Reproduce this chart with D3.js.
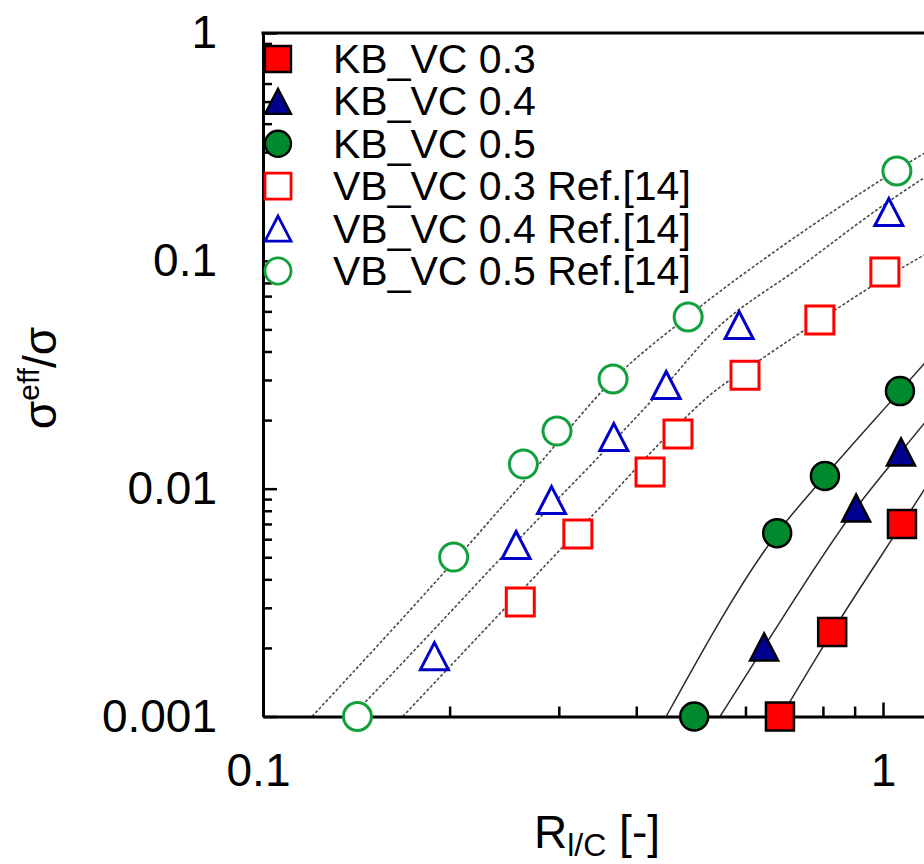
<!DOCTYPE html>
<html>
<head>
<meta charset="utf-8">
<script src="https://cdn.jsdelivr.net/npm/d3@7"></script>
<style>
  body { margin: 0; background: #fff; }
  text { font-family: "Liberation Sans", Arial, sans-serif; }
</style>
</head>
<body>
<div id="chart-area"></div>
<script>
const kb03X = [0.682, 0.828, 1.073];
const kb03Y = [0.001, 0.00235, 0.0070];
const kb04X = [0.643, 0.905, 1.069];
const kb04Y = [0.00202, 0.00822, 0.0145];
const kb05X = [0.496, 0.675, 0.806, 1.065];
const kb05Y = [0.001, 0.00638, 0.01136, 0.0268];

const vb03X = [0.260, 0.322, 0.421, 0.467, 0.599, 0.791, 1.007];
const vb03Y = [0.00318, 0.00632, 0.01183, 0.01738, 0.0315, 0.0550, 0.0893];
const vb04X = [0.189, 0.256, 0.292, 0.368, 0.447, 0.586, 1.022];
const vb04Y = [0.00184, 0.00566, 0.00891, 0.01684, 0.0285, 0.0523, 0.1637];
const vb05X = [0.142, 0.203, 0.263, 0.298, 0.367, 0.485, 1.053];
const vb05Y = [0.001, 0.00501, 0.01282, 0.0179, 0.0303, 0.0567, 0.248];

// fitted curves
const fitKb03X = [0.685, 0.828, 1.073, 1.331];
const fitKb03Y = [0.001, 0.00235, 0.0070, 0.0172];
const fitKb04X = [0.546, 0.643, 0.905, 1.069, 1.331];
const fitKb04Y = [0.001, 0.00202, 0.00822, 0.0145, 0.0300];
const fitKb05X = [0.447, 0.675, 0.806, 1.065, 1.331];
const fitKb05Y = [0.001, 0.00638, 0.01136, 0.0268, 0.0533];

const fitVb03X = [0.168, 0.260, 0.350, 0.453, 0.526, 0.633, 0.791, 1.007, 1.331];
const fitVb03Y = [0.001, 0.00352, 0.0083, 0.01754, 0.02576, 0.03668, 0.0550, 0.0840, 0.1298];
const fitVb04X = [0.139, 0.189, 0.256, 0.350, 0.448, 0.526, 0.735, 1.015, 1.331];
const fitVb04Y = [0.001, 0.00242, 0.00583, 0.01404, 0.02878, 0.04724, 0.0939, 0.1800, 0.2914];
const fitVb05X = [0.120, 0.213, 0.280, 0.368, 0.485, 0.650, 0.831, 1.053, 1.331];
const fitVb05Y = [0.001, 0.00554, 0.0130, 0.0303, 0.0572, 0.1040, 0.1650, 0.2504, 0.3675];

const xMajor = [0.1, 1];
const xMinor = [0.2, 0.3, 0.4, 0.5, 0.6, 0.7, 0.8, 0.9, 2, 3];
const yMajor = [0.001, 0.01, 0.1, 1];
const yMinor = [0.002, 0.003, 0.004, 0.005, 0.006, 0.007, 0.008, 0.009,
                0.02, 0.03, 0.04, 0.05, 0.06, 0.07, 0.08, 0.09,
                0.2, 0.3, 0.4, 0.5, 0.6, 0.7, 0.8, 0.9];

const legendLabels = ["KB_VC 0.3", "KB_VC 0.4", "KB_VC 0.5",
                      "VB_VC 0.3 Ref.[14]", "VB_VC 0.4 Ref.[14]", "VB_VC 0.5 Ref.[14]"];

const config = {
    width: 924,
    height: 864,
    left: 263,
    top: 33,
    bottom: 716.5,
    decadeX: 620
};

const RED = "#ff0000", NAVY = "#000090", BLUE = "#0000c8", DKGREEN = "#008a2e", GREEN = "#12a03c";

const series = [
    { xs: kb03X, ys: kb03Y, shape: "square", fill: RED, stroke: "#000", sw: 2.5 },
    { xs: kb04X, ys: kb04Y, shape: "triangle", fill: NAVY, stroke: "#000", sw: 2.5 },
    { xs: kb05X, ys: kb05Y, shape: "circle", fill: DKGREEN, stroke: "#000", sw: 2.5 },
    { xs: vb03X, ys: vb03Y, shape: "square", fill: "#fff", stroke: RED, sw: 3 },
    { xs: vb04X, ys: vb04Y, shape: "triangle", fill: "#fff", stroke: BLUE, sw: 3 },
    { xs: vb05X, ys: vb05Y, shape: "circle", fill: "#fff", stroke: GREEN, sw: 3 }
];

const fits = [
    { xs: fitKb03X, ys: fitKb03Y, dash: null },
    { xs: fitKb04X, ys: fitKb04Y, dash: null },
    { xs: fitKb05X, ys: fitKb05Y, dash: null },
    { xs: fitVb03X, ys: fitVb03Y, dash: "3,2" },
    { xs: fitVb04X, ys: fitVb04Y, dash: "3,2" },
    { xs: fitVb05X, ys: fitVb05Y, dash: "3,2" }
];

const svg = d3.select("#chart-area").append("svg")
    .attr("width", config.width)
    .attr("height", config.height)
    .style("background", "#fff");

const x = d3.scaleLog().domain([0.1, 10]).range([config.left, config.left + 2 * config.decadeX]);
const y = d3.scaleLog().domain([0.001, 1]).range([config.bottom, config.top]);

svg.append("clipPath").attr("id", "plot-clip")
    .append("rect")
    .attr("x", config.left).attr("y", config.top)
    .attr("width", 2000).attr("height", config.bottom - config.top);

// fit lines
const line = d3.line()
    .x(d => x(d[0]))
    .y(d => y(d[1]))
    .curve(d3.curveMonotoneX);

svg.append("g").attr("clip-path", "url(#plot-clip)")
    .selectAll("path")
    .data(fits)
    .join("path")
    .attr("d", f => line(f.xs.map((v, i) => [v, f.ys[i]])))
    .attr("fill", "none")
    .attr("stroke", f => f.dash ? "#4a4a4a" : "#2a2a2a")
    .attr("stroke-width", f => f.dash ? 1.6 : 1.5)
    .attr("stroke-dasharray", f => f.dash);

// axes (ticks point inward)
function styleAxis(g) {
    g.select(".domain").attr("stroke", "#000").attr("stroke-width", 3);
    g.selectAll(".tick line").attr("stroke", "#000").attr("stroke-width", 2.5);
    g.selectAll("text").attr("fill", "#000").attr("font-size", "46px")
        .attr("font-family", "'Liberation Sans', Arial, sans-serif");
}

const xAxisGroup = svg.append("g")
    .attr("transform", `translate(0, ${config.bottom})`)
    .call(d3.axisBottom(x).tickValues(xMajor).tickFormat(d3.format("~g"))
        .tickSizeInner(-14).tickSizeOuter(0).tickPadding(37))
    .call(styleAxis);
xAxisGroup.selectAll(".tick text").attr("dx", d => d < 1 ? -5 : 0);
svg.append("g")
    .attr("transform", `translate(0, ${config.bottom})`)
    .call(d3.axisBottom(x).tickValues(xMinor).tickFormat("")
        .tickSizeInner(-10).tickSizeOuter(0))
    .call(styleAxis)
    .select(".domain").remove();

const yAxisGroup = svg.append("g")
    .attr("transform", `translate(${config.left}, 0)`)
    .call(d3.axisLeft(y).tickValues(yMajor).tickFormat(d3.format("~g"))
        .tickSizeInner(-14).tickSizeOuter(0).tickPadding(46))
    .call(styleAxis);
svg.append("g")
    .attr("transform", `translate(${config.left}, 0)`)
    .call(d3.axisLeft(y).tickValues(yMinor).tickFormat("")
        .tickSizeInner(-9).tickSizeOuter(0))
    .call(styleAxis)
    .select(".domain").remove();

// top frame line
svg.append("line")
    .attr("x1", config.left - 1.5).attr("x2", config.width)
    .attr("y1", config.top).attr("y2", config.top)
    .attr("stroke", "#000").attr("stroke-width", 3);

// marker shapes, centred on their bounding box
function shapePath(shape) {
    if (shape === "square") return "M-14,-14H14V14H-14Z";
    if (shape === "triangle") return "M0,-13.5L14,13.5H-14Z";
    return "M14,0A14,14 0 1,1 -14,0A14,14 0 1,1 14,0Z";
}

series.forEach(s => {
    svg.append("g")
        .selectAll("path")
        .data(s.xs.map((v, i) => [v, s.ys[i]]))
        .join("path")
        .attr("transform", d => `translate(${x(d[0])}, ${y(d[1])})`)
        .attr("d", shapePath(s.shape))
        .attr("fill", s.fill)
        .attr("stroke", s.stroke)
        .attr("stroke-width", s.sw)
        .attr("stroke-linejoin", "miter");
});

// legend
const legend = svg.append("g").attr("transform", "translate(278, 59)");
const rows = legend.selectAll("g")
    .data(series)
    .join("g")
    .attr("transform", (d, i) => `translate(0, ${i * 42.4})`);
rows.append("path")
    .attr("d", d => shapePath(d.shape))
    .attr("transform", "scale(0.93)")
    .attr("fill", d => d.fill)
    .attr("stroke", d => d.stroke)
    .attr("stroke-width", d => d.sw);
rows.append("text")
    .attr("x", 55)
    .attr("y", 14)
    .attr("font-size", "41px")
    .attr("fill", "#000")
    .text((d, i) => legendLabels[i]);

// axis titles
const xTitle = svg.append("text")
    .attr("x", 597)
    .attr("y", 848)
    .attr("text-anchor", "middle")
    .attr("font-size", "46px")
    .attr("fill", "#000");
xTitle.append("tspan").text("R");
xTitle.append("tspan").attr("font-size", "32px").attr("dy", 8).text("l/C");
xTitle.append("tspan").attr("dy", -8).text(" [-]");

const yTitle = svg.append("text")
    .attr("transform", "translate(56, 378) rotate(-90)")
    .attr("text-anchor", "middle")
    .attr("font-size", "46px")
    .attr("fill", "#000");
yTitle.append("tspan").text("σ");
yTitle.append("tspan").attr("font-size", "30px").attr("dy", -17).text("eff");
yTitle.append("tspan").attr("dy", 17).text("/σ");
</script>
</body>
</html>
